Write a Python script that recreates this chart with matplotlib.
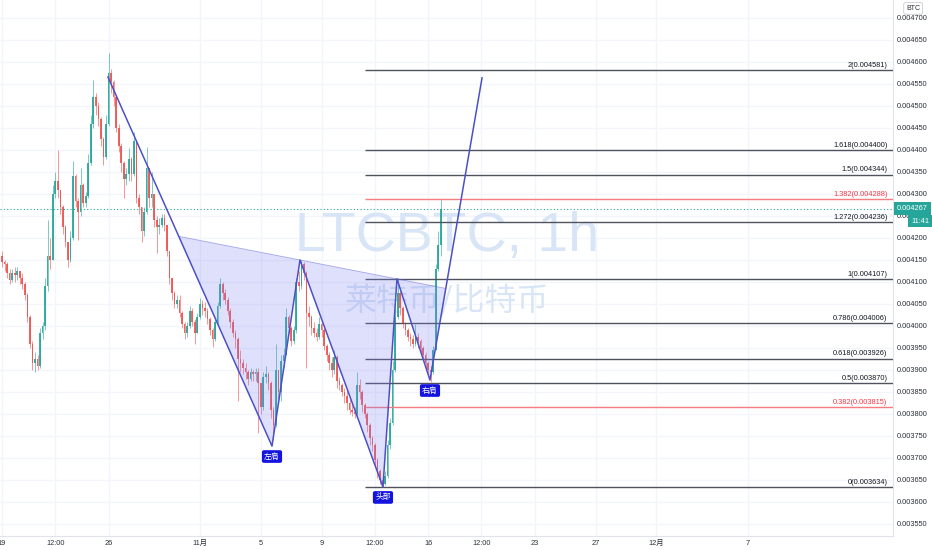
import matplotlib
matplotlib.use("Agg")
import matplotlib.pyplot as plt
import matplotlib.transforms as mtransforms
from matplotlib.patches import Polygon
import numpy as np

plt.rcParams['font.family'] = ['Liberation Sans', 'Noto Sans CJK SC', 'DejaVu Sans']

# prices are in units of 1e-6 BTC, x axis is days since Oct 19 00:00
UNIT = 1e-6
BAR_DAYS = 1 / 6          # 4h candles
first_time = -1 / 6
first_open = 4170

closes = [4160, 4145, 4140, 4120, 4105, 4120, 4115, 4125, 4110, 4095,
          4070, 4020, 3960, 3915, 3925, 3910, 3985, 4000, 4090, 4160,
          4150, 4300, 4330, 4310, 4270, 4225, 4190, 4150, 4200, 4340,
          4285, 4260, 4320, 4280, 4295, 4370, 4460, 4520, 4500, 4470,
          4425, 4385, 4460, 4575, 4555, 4520, 4450, 4410, 4370, 4335,
          4345, 4380, 4345, 4420, 4290, 4270, 4215, 4260, 4360, 4290,
          4300, 4240, 4225, 4230, 4245, 4230, 4170, 4110, 4075, 4050,
          4060, 4030, 4005, 3985, 4000, 4035, 4010, 3985, 4020, 4050,
          4040, 4035, 4015, 3990, 3970, 4010, 4045, 4095, 4075, 4060,
          4035, 4010, 3985, 3970, 3925, 3915, 3905, 3895, 3880, 3895,
          3890, 3895, 3870, 3815, 3885, 3890, 3870, 3810, 3775, 3900,
          3850, 3920, 3935, 4020, 3995, 3965, 3990, 4100, 4090, 4140,
          4120, 4030, 4020, 3995, 3985, 3975, 4005, 3990, 3955, 3935,
          3915, 3900, 3930, 3875, 3865, 3850, 3840, 3825, 3810, 3805,
          3800, 3865, 3850, 3820, 3800, 3775, 3745, 3730, 3695, 3670,
          3650, 3640, 3660, 3730, 3780, 3900, 4020, 4075, 4040, 4005,
          3990, 3975, 3970, 3960, 3975, 3965, 3950, 3935, 3915, 3900,
          3895, 3945, 4130, 4185, 4267]

highs = [4180, 4170, 4150, 4145, 4130, 4130, 4135, 4135, 4125, 4120,
         4100, 4075, 4025, 3965, 3940, 3935, 3995, 4010, 4110, 4240,
         4200, 4320, 4350, 4400, 4310, 4275, 4230, 4190, 4215, 4375,
         4345, 4290, 4360, 4325, 4305, 4390, 4480, 4560, 4530, 4510,
         4475, 4430, 4480, 4620, 4585, 4560, 4525, 4460, 4415, 4375,
         4360, 4405, 4385, 4440, 4420, 4300, 4270, 4270, 4407, 4355,
         4350, 4300, 4250, 4245, 4255, 4255, 4225, 4170, 4110, 4080,
         4070, 4070, 4035, 4010, 4010, 4045, 4040, 4015, 4030, 4064,
         4060, 4055, 4040, 4020, 3995, 4015, 4055, 4109, 4100, 4085,
         4065, 4040, 4015, 3990, 3975, 3945, 3925, 3915, 3900, 3905,
         3900, 3905, 3905, 3870, 3895, 3908, 3895, 3875, 3815, 3960,
         3900, 3935, 3950, 4040, 4025, 4000, 4000, 4110, 4125, 4150,
         4145, 4125, 4045, 4025, 4010, 3995, 4020, 4010, 3995, 3960,
         3940, 3930, 3945, 3935, 3885, 3870, 3860, 3855, 3835, 3820,
         3815, 3895, 3880, 3855, 3825, 3805, 3780, 3750, 3735, 3700,
         3675, 3660, 3670, 3740, 3790, 3920, 4040, 4110, 4080, 4045,
         4010, 3995, 3985, 3980, 4005, 3985, 3970, 3955, 3940, 3920,
         3910, 3955, 4140, 4215, 4288]

lows = [4140, 4135, 4125, 4110, 4095, 4100, 4100, 4105, 4095, 4085,
        4060, 4010, 3950, 3900, 3896, 3900, 3905, 3970, 3990, 4080,
        4130, 4150, 4290, 4290, 4255, 4210, 4180, 4135, 4145, 4195,
        4270, 4195, 4250, 4270, 4270, 4290, 4365, 4450, 4480, 4455,
        4410, 4365, 4380, 4455, 4530, 4500, 4440, 4395, 4350, 4290,
        4320, 4330, 4330, 4340, 4280, 4255, 4190, 4205, 4255, 4270,
        4270, 4225, 4165, 4210, 4225, 4215, 4160, 4095, 4060, 4040,
        4040, 4020, 3995, 3970, 3975, 3995, 4000, 3960, 3985, 4015,
        4025, 4020, 4005, 3980, 3953, 3965, 4005, 4040, 4060, 4050,
        4025, 3995, 3975, 3950, 3830, 3895, 3890, 3880, 3865, 3875,
        3875, 3875, 3757, 3800, 3810, 3870, 3855, 3790, 3742, 3770,
        3835, 3830, 3905, 3940, 3985, 3955, 3960, 3985, 4080, 4085,
        4105, 3905, 4000, 3980, 3975, 3965, 3970, 3975, 3945, 3920,
        3900, 3885, 3890, 3860, 3855, 3840, 3825, 3810, 3800, 3795,
        3790, 3795, 3835, 3805, 3790, 3760, 3730, 3715, 3680, 3655,
        3640, 3634, 3638, 3655, 3720, 3775, 3895, 4015, 4025, 3995,
        3980, 3965, 3955, 3950, 3955, 3950, 3940, 3925, 3905, 3890,
        3873, 3890, 3945, 4125, 4160]

fib_ratios = ['0', '0.382', '0.5', '0.618', '0.786', '1', '1.272', '1.382', '1.5', '1.618', '2']
fib_prices = [3634, 3815, 3870, 3926, 4006, 4107, 4236, 4288, 4344, 4400, 4581]
fib_red = ['0.382', '1.382']
fib_start_day = 23.85

# head & shoulders drawing: start, left shoulder, neck, head, neck, right shoulder, target
pattern_days = [6.96, 17.74, 19.58, 25.03, 25.95, 28.12, 31.54]
pattern_prices = [4566, 3727, 4150, 3634, 4107, 3877, 4564]
pattern_labels = {1: '左肩', 3: '头部', 5: '右肩'}

last_price = 4267
countdown = '11:41'

tick_days = [0, 3.5, 7, 13, 17, 21, 24.5, 28, 31.5, 35, 39, 43, 49]
tick_labels = ['19', '12:00', '26', '11月', '5', '9', '12:00', '16', '12:00', '23', '27', '12月', '7']

x_range = (-0.131, 58.54)
y_range = (3522.7, 4740.9)

UP = '#26a69a'
DOWN = '#ef5350'
GRID = '#f3f5fa'
TEXT = '#2a2e39'


def line_intersect(p1, p2, p3, p4):
    (x1, y1), (x2, y2), (x3, y3), (x4, y4) = p1, p2, p3, p4
    d = (x1 - x2) * (y3 - y4) - (y1 - y2) * (x3 - x4)
    t = ((x1 - x3) * (y3 - y4) - (y1 - y3) * (x3 - x4)) / d
    return x1 + t * (x2 - x1), y1 + t * (y2 - y1)


fig = plt.figure(figsize=(9.32, 5.5), dpi=100)
ax = fig.add_axes([0, 14 / 550, 893 / 932, 536 / 550])
ax.set_xlim(*x_range)
ax.set_ylim(y_range[0] * UNIT, y_range[1] * UNIT)

# grid
yticks = np.arange(3550, 4701, 50) * UNIT
for t in yticks:
    ax.axhline(t, color=GRID, lw=1, zorder=0)
for d in tick_days:
    ax.axvline(d, color=GRID, lw=1, zorder=0)

# watermark
ax.text(0.5006, 0.558, 'LTCBTC, 1h', transform=ax.transAxes, fontsize=40,
        color='#d8e5f6', ha='center', va='center', zorder=0.5)
ax.text(0.5006, 0.438, '莱特币/比特币', transform=ax.transAxes, fontsize=23,
        color='#d8e5f6', ha='center', va='center', zorder=0.5,
        family=['Noto Sans CJK SC', 'DejaVu Sans'])

# candles
c = np.array(closes, dtype=float)
o = np.concatenate([[first_open], c[:-1]])
h = np.maximum(np.array(highs, dtype=float), np.maximum(o, c))
l = np.minimum(np.array(lows, dtype=float), np.minimum(o, c))
t = first_time + np.arange(len(c)) * BAR_DAYS
cols = [UP if cc >= oo else DOWN for oo, cc in zip(o, c)]
ax.vlines(t, l * UNIT, h * UNIT, colors=cols, lw=0.7, alpha=0.6, zorder=2)
body_h = np.where(np.abs(c - o) < 2, 2, c - o)
ax.bar(t, body_h * UNIT, bottom=o * UNIT, width=BAR_DAYS * 0.65,
       color=cols, edgecolor='none', alpha=0.9, zorder=3)

# fib levels
for ratio, price in zip(fib_ratios, fib_prices):
    col = '#f77c80' if ratio in fib_red else '#50535e'
    ax.hlines(price * UNIT, fib_start_day, x_range[1], colors=col, lw=1, zorder=4)
    ax.annotate(f'{ratio}({price * UNIT:.6f})', xy=(x_range[1], price * UNIT),
                xytext=(-4, 1), textcoords='offset points', ha='right', va='bottom',
                fontsize=5.3, color='#f23645' if ratio in fib_red else '#131722', zorder=5)

# head & shoulders pattern
pts = list(zip(pattern_days, [p * UNIT for p in pattern_prices]))
neck_a = line_intersect(pts[2], pts[4], pts[0], pts[1])
neck_b = line_intersect(pts[2], pts[4], pts[5], pts[6])
poly = [neck_a, pts[1], pts[2], pts[3], pts[4], pts[5], neck_b]
ax.add_patch(Polygon(poly, closed=True, fc='#7b7ff2', alpha=0.24, ec='none', zorder=5))
ax.plot([neck_a[0], neck_b[0]], [neck_a[1], neck_b[1]], color='#5b5fd6', lw=0.6,
        alpha=0.5, zorder=6)
ax.plot(pattern_days, [p * UNIT for p in pattern_prices], color='#4c50c8', lw=1.1, zorder=6)
for idx, txt in pattern_labels.items():
    ax.annotate(txt, xy=pts[idx], xytext=(0, -7.5), textcoords='offset points',
                ha='center', va='center', fontsize=5.6, color='white',
                family=['Noto Sans CJK SC', 'DejaVu Sans'],
                bbox=dict(boxstyle='round,pad=0.3,rounding_size=0.25', fc='#1414e0', ec='none'),
                zorder=7)

# last price line
ax.axhline(last_price * UNIT, color=UP, lw=0.8, ls=(0, (1, 2)), zorder=4)

# axes styling
for side in ['top', 'left']:
    ax.spines[side].set_visible(False)
ax.spines['right'].set_color('#e0e3eb')
ax.spines['bottom'].set_color('#e0e3eb')
ax.yaxis.tick_right()
ax.set_yticks(yticks)
ax.set_yticklabels([f'{v:.6f}' for v in yticks])
ax.set_xticks(tick_days)
ax.set_xticklabels(tick_labels)
ax.tick_params(axis='y', length=0, pad=3, labelsize=5.3, labelcolor=TEXT)
ax.tick_params(axis='x', length=0, pad=3, labelsize=5.3, labelcolor=TEXT)

# price label boxes on the axis
trans = mtransforms.blended_transform_factory(ax.transAxes, ax.transData)
ax.annotate(f'{last_price * UNIT:.6f}', xy=(1, last_price * UNIT), xycoords=trans,
            xytext=(3, 0), textcoords='offset points', ha='left', va='center',
            fontsize=5.3, color='white', annotation_clip=False,
            bbox=dict(boxstyle='square,pad=0.4', fc=UP, ec='none'), zorder=10)
ax.annotate(countdown, xy=(1, last_price * UNIT), xycoords=trans,
            xytext=(26, -9), textcoords='offset points', ha='right', va='center',
            fontsize=5.3, color='white', annotation_clip=False,
            bbox=dict(boxstyle='square,pad=0.4', fc=UP, ec='none'), zorder=10)
ax.annotate('BTC', xy=(1, 1), xycoords='axes fraction', xytext=(14.5, -6),
            textcoords='offset points', ha='center', va='center', fontsize=5,
            color=TEXT, annotation_clip=False,
            bbox=dict(boxstyle='round,pad=0.35,rounding_size=0.3', fc='white', ec='#c9ccd3', lw=0.6),
            zorder=10)

fig.savefig('out.png', dpi=100, facecolor='white')
